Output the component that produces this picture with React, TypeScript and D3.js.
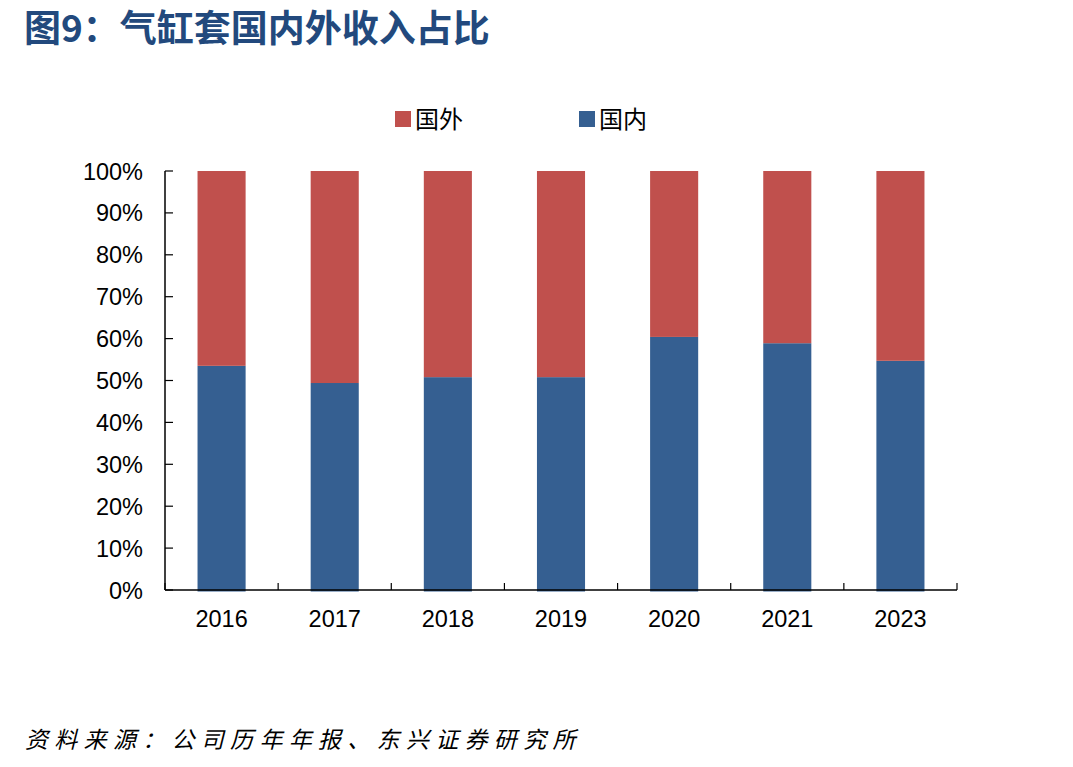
import * as d3 from 'd3';

const years = ['2016', '2017', '2018', '2019', '2020', '2021', '2023'];
const domestic = [53.5, 49.4, 50.8, 50.8, 60.4, 58.9, 54.7];
const foreign = [46.5, 50.6, 49.2, 49.2, 39.6, 41.1, 45.3];
const yTicks = [0, 10, 20, 30, 40, 50, 60, 70, 80, 90, 100];

const BLUE = '#355F91';
const RED = '#C0504D';
const AXIS_FONT = 'Arial, "Liberation Sans", sans-serif';
const CJK_FONT = '"Noto Sans CJK SC", sans-serif';

export default function App() {
    const width = 1073;
    const height = 767;
    const plot = { left: 165, right: 957, top: 171, bottom: 590 };

    const x = d3.scaleBand<string>()
        .domain(years)
        .range([plot.left, plot.right])
        .paddingInner(0.575)
        .paddingOuter(0.2875);
    const y = d3.scaleLinear().domain([0, 100]).range([plot.bottom, plot.top]);

    const rows = years.map((yr, i) => ({ year: yr, domestic: domestic[i], foreign: foreign[i] }));
    const stacked = d3.stack<any>().keys(['domestic', 'foreign'])(rows);
    const colors: Record<string, string> = { domestic: BLUE, foreign: RED };

    const step = x.step();
    const boundaries = d3.range(years.length + 1).map(i => plot.left + i * step);

    return (
        <svg width={width} height={height} style={{ position: 'absolute', left: 0, top: 0, background: '#fff' }}>
            <text x={24} y={42} fontFamily={CJK_FONT} fontWeight={700} fontSize={37} fill="#22497D">
                图9：气缸套国内外收入占比
            </text>

            {/* legend */}
            <rect x={395} y={111} width={16} height={16} fill={RED} />
            <text x={415} y={128} fontFamily={CJK_FONT} fontSize={24} fill="#000">国外</text>
            <rect x={579} y={111} width={16} height={16} fill={BLUE} />
            <text x={599} y={128} fontFamily={CJK_FONT} fontSize={24} fill="#000">国内</text>

            {/* bars */}
            {stacked.map(layer => (
                <g key={layer.key} fill={colors[layer.key]}>
                    {layer.map((d, i) => (
                        <rect
                            key={i}
                            x={x(years[i])}
                            y={y(d[1])}
                            width={x.bandwidth()}
                            height={y(d[0]) - y(d[1]) + (layer.key === 'domestic' ? 1.5 : 0)}
                        />
                    ))}
                </g>
            ))}

            {/* y axis */}
            <line x1={plot.left} x2={plot.left} y1={plot.top} y2={plot.bottom} stroke="#000" strokeWidth={1.5} />
            {yTicks.map(t => (
                <g key={t}>
                    <line x1={plot.left} x2={plot.left + 8} y1={y(t)} y2={y(t)} stroke="#000" strokeWidth={1.2} />
                    <text x={143} y={y(t) + 8.5} textAnchor="end" fontFamily={AXIS_FONT} fontSize={23.5} fill="#000">
                        {t}%
                    </text>
                </g>
            ))}

            {/* x axis */}
            <line x1={plot.left} x2={plot.right} y1={plot.bottom} y2={plot.bottom} stroke="#000" strokeWidth={1.5} />
            {boundaries.map((b, i) => (
                <line key={i} x1={b} x2={b} y1={plot.bottom} y2={plot.bottom - 7} stroke="#000" strokeWidth={1.2} />
            ))}
            {years.map(yr => (
                <text
                    key={yr}
                    x={(x(yr) ?? 0) + x.bandwidth() / 2}
                    y={627}
                    textAnchor="middle"
                    fontFamily={AXIS_FONT}
                    fontSize={23.5}
                    fill="#000"
                >
                    {yr}
                </text>
            ))}

            <text
                x={25}
                y={748}
                fontFamily={CJK_FONT}
                fontStyle="italic"
                fontSize={23}
                letterSpacing={6.3}
                fill="#000"
            >
                资料来源：公司历年年报、东兴证券研究所
            </text>
        </svg>
    );
}
